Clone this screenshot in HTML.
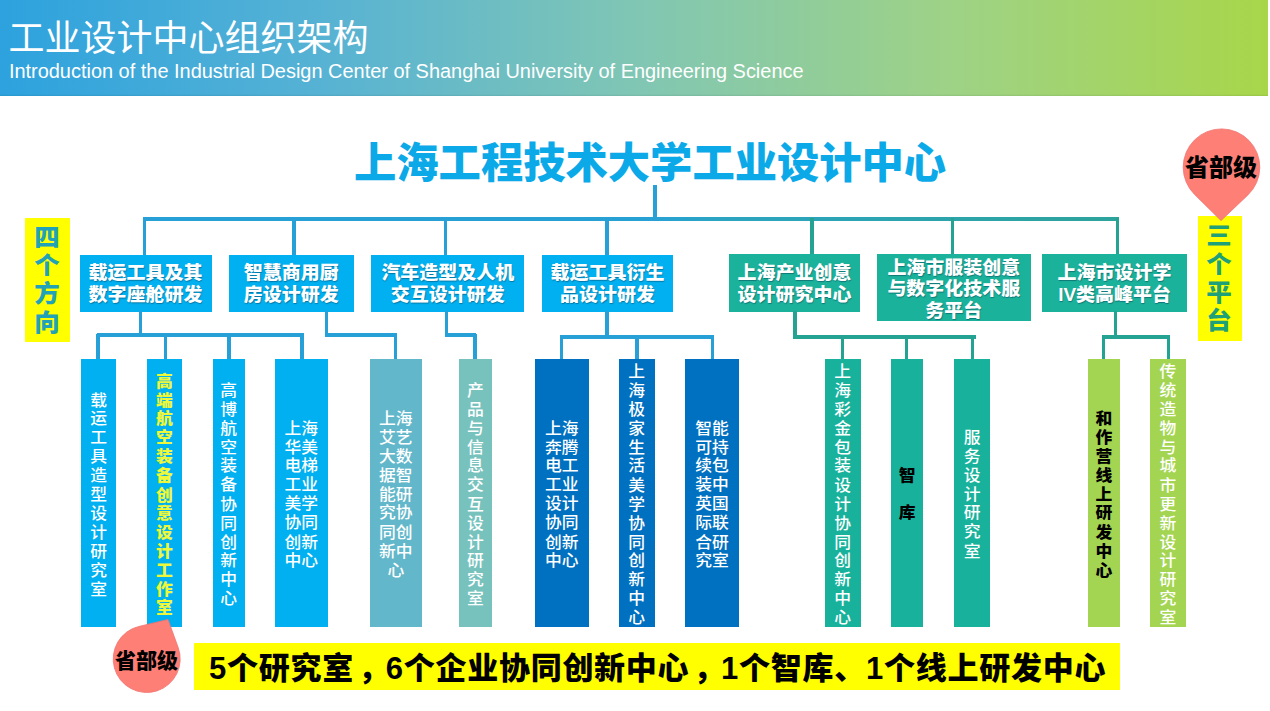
<!DOCTYPE html>
<html lang="zh-CN">
<head>
<meta charset="utf-8">
<title>工业设计中心组织架构</title>
<style>
*{margin:0;padding:0;box-sizing:border-box;}
html,body{width:1270px;height:711px;overflow:hidden;background:#fff;}
body{position:relative;font-family:"Liberation Sans","Noto Sans CJK SC",sans-serif;}
.abs{position:absolute;}
#hdr{left:0;top:0;width:1268px;height:96px;box-shadow:inset 0 -1.2px 0 rgba(0,40,40,0.07);
 background:linear-gradient(90deg,#2da2de 0%,#56b2d4 25%,#80c6b4 50%,#9ed286 75%,#a8d64a 100%);}
#t1{left:8.5px;top:12.5px;font-family:"Noto Sans CJK SC",sans-serif;font-weight:400;font-size:36px;line-height:44px;color:#fff;white-space:nowrap;}
#t2{left:8.9px;top:59.9px;font-family:"Liberation Sans",sans-serif;font-size:19.96px;line-height:22px;color:#fff;white-space:nowrap;}
#main{left:354px;top:129.5px;font-family:"Noto Sans CJK SC",sans-serif;font-weight:800;font-size:42.3px;line-height:60px;color:#0ca9e9;white-space:nowrap;}
.ln{position:absolute;}
.b2{position:absolute;display:flex;align-items:center;justify-content:center;text-align:center;color:#fff;
 font-family:"Liberation Sans","Noto Sans CJK SC",sans-serif;font-weight:900;font-size:18.5px;line-height:21.8px;white-space:nowrap;padding-top:1.5px;}
.b2 span{display:block;transform:scaleX(1.025);text-shadow:0.6px 0.7px 0.9px rgba(0,50,80,0.45);}
.blue{background:#00b0f0;}
.teal{background:#1ab29a;}
.b6{padding-top:4.2px;}
.b3{position:absolute;top:359px;height:268px;display:flex;align-items:center;justify-content:center;text-align:center;color:#fff;
 font-family:"Noto Sans CJK SC",sans-serif;font-weight:500;font-size:16.8px;line-height:20.1px;white-space:nowrap;}
.b3 span{display:block;transform:scaleY(0.94);position:relative;top:0.6px;}
.cb{background:#00b0f0;}
.ce{background:#62b7ca;}
.cf{background:#78c2be;}
.cg{background:#0070c0;}
.cj{background:#18b29c;}
.cm{background:#a4d552;}
.yb{position:absolute;background:#ffff00;display:flex;align-items:center;justify-content:center;text-align:center;
 font-family:"Noto Sans CJK SC",sans-serif;font-weight:900;font-size:24px;line-height:28.3px;}
.yb span{display:block;transform:scaleX(1.06);position:relative;top:-1.5px;left:-0.5px;}
#banner{left:194px;top:643px;width:926px;height:47px;background:#ffff00;
 font-family:"Liberation Sans","Noto Sans CJK SC",sans-serif;font-weight:900;font-size:31px;line-height:51px;color:#000;white-space:nowrap;padding-left:15px;letter-spacing:0.74px;}
.cm2{position:relative;left:4px;}
.cm3{position:relative;left:0px;}
.pintxt{position:absolute;font-family:"Noto Sans CJK SC",sans-serif;font-weight:900;color:#000;white-space:nowrap;}
</style>
</head>
<body>
<div id="hdr" class="abs"></div>
<div id="t1" class="abs">工业设计中心组织架构</div>
<div id="t2" class="abs">Introduction of the Industrial Design Center of Shanghai University of Engineering Science</div>
<div id="main" class="abs">上海工程技术大学工业设计中心</div>
<div class="ln" style="left:653.3px;top:185.0px;width:3.4px;height:34.0px;background:#26a0d6"></div>
<div class="ln" style="left:142.5px;top:217.3px;width:976.5px;height:3.4px;background:linear-gradient(90deg,#26a0d6 0%,#27a1d4 52%,#2ca4c0 60%,#2da4a6 88%,#2da39c 100%)"></div>
<div class="ln" style="left:142.9px;top:218.0px;width:3.4px;height:37.5px;background:#26a0d6"></div>
<div class="ln" style="left:292.3px;top:218.0px;width:3.4px;height:37.5px;background:#26a0d6"></div>
<div class="ln" style="left:444.0px;top:218.0px;width:3.4px;height:37.5px;background:#26a0d6"></div>
<div class="ln" style="left:605.2px;top:218.0px;width:3.4px;height:37.5px;background:#26a0d6"></div>
<div class="ln" style="left:810.3px;top:218.0px;width:3.4px;height:37.5px;background:#25a392"></div>
<div class="ln" style="left:951.0px;top:218.0px;width:3.4px;height:37.5px;background:#25a392"></div>
<div class="ln" style="left:1115.8px;top:218.0px;width:3.4px;height:37.5px;background:#25a392"></div>
<div class="b2 blue" style="left:80px;top:254.5px;width:131.5px;height:57px"><span>载运工具及其<br>数字座舱研发</span></div>
<div class="b2 blue" style="left:229px;top:254.5px;width:124.6px;height:57px"><span>智慧商用厨<br>房设计研发</span></div>
<div class="b2 blue" style="left:370.6px;top:254.5px;width:153.8px;height:57px"><span>汽车造型及人机<br>交互设计研发</span></div>
<div class="b2 blue" style="left:542px;top:254.5px;width:130.5px;height:57px"><span>载运工具衍生<br>品设计研发</span></div>
<div class="b2 teal" style="left:729px;top:254px;width:131px;height:57.5px"><span>上海产业创意<br>设计研究中心</span></div>
<div class="b2 teal b6" style="left:877px;top:254px;width:154.3px;height:66.5px"><span>上海市服装创意<br>与数字化技术服<br>务平台</span></div>
<div class="b2 teal" style="left:1042px;top:254.3px;width:145px;height:57.4px"><span>上海市设计学<br>IV类高峰平台</span></div>
<div class="ln" style="left:138.8px;top:311.0px;width:3.4px;height:25.5px;background:#26a0d6"></div>
<div class="ln" style="left:96.5px;top:333.3px;width:207.0px;height:3.4px;background:#26a0d6"></div>
<div class="ln" style="left:96.3px;top:333.5px;width:3.4px;height:26.5px;background:#26a0d6"></div>
<div class="ln" style="left:163.5px;top:333.5px;width:3.4px;height:26.5px;background:#26a0d6"></div>
<div class="ln" style="left:227.4px;top:333.5px;width:3.4px;height:26.5px;background:#26a0d6"></div>
<div class="ln" style="left:300.3px;top:333.5px;width:3.4px;height:26.5px;background:#26a0d6"></div>
<div class="ln" style="left:325.1px;top:311.0px;width:3.4px;height:25.5px;background:#26a0d6"></div>
<div class="ln" style="left:325.3px;top:333.3px;width:71.8px;height:3.4px;background:#26a0d6"></div>
<div class="ln" style="left:393.9px;top:333.5px;width:3.4px;height:26.5px;background:#26a0d6"></div>
<div class="ln" style="left:444.9px;top:311.0px;width:3.4px;height:25.5px;background:#26a0d6"></div>
<div class="ln" style="left:445.1px;top:333.3px;width:31.4px;height:3.4px;background:#26a0d6"></div>
<div class="ln" style="left:473.3px;top:333.5px;width:3.4px;height:26.5px;background:#26a0d6"></div>
<div class="ln" style="left:605.3px;top:311.0px;width:3.4px;height:27.5px;background:#26a0d6"></div>
<div class="ln" style="left:560.0px;top:335.3px;width:154.0px;height:3.4px;background:#26a0d6"></div>
<div class="ln" style="left:559.7px;top:335.5px;width:3.4px;height:24.5px;background:#26a0d6"></div>
<div class="ln" style="left:635.3px;top:335.5px;width:3.4px;height:24.5px;background:#26a0d6"></div>
<div class="ln" style="left:710.6px;top:335.5px;width:3.4px;height:24.5px;background:#26a0d6"></div>
<div class="ln" style="left:793.3px;top:311.0px;width:3.4px;height:27.5px;background:#25a392"></div>
<div class="ln" style="left:793.5px;top:335.3px;width:182.5px;height:3.4px;background:#25a392"></div>
<div class="ln" style="left:840.7px;top:335.5px;width:3.4px;height:24.5px;background:#25a392"></div>
<div class="ln" style="left:904.9px;top:335.5px;width:3.4px;height:24.5px;background:#25a392"></div>
<div class="ln" style="left:971.0px;top:335.5px;width:3.4px;height:24.5px;background:#25a392"></div>
<div class="ln" style="left:1113.8px;top:311.0px;width:3.4px;height:27.5px;background:#25a392"></div>
<div class="ln" style="left:1102.2px;top:335.3px;width:68.0px;height:3.4px;background:#25a392"></div>
<div class="ln" style="left:1102.0px;top:335.5px;width:3.4px;height:24.5px;background:#25a392"></div>
<div class="ln" style="left:1167.0px;top:335.5px;width:3.4px;height:24.5px;background:#25a392"></div>
<div class="b3 cb" style="left:81.3px;width:34.5px;"><span>载<br>运<br>工<br>具<br>造<br>型<br>设<br>计<br>研<br>究<br>室</span></div>
<div class="b3 cb" style="left:146.7px;width:35.5px;color:#eef83a;font-weight:900"><span>高<br>端<br>航<br>空<br>装<br>备<br>创<br>意<br>设<br>计<br>工<br>作<br>室</span></div>
<div class="b3 cb" style="left:212.7px;width:32.1px;"><span>高<br>博<br>航<br>空<br>装<br>备<br>协<br>同<br>创<br>新<br>中<br>心</span></div>
<div class="b3 cb" style="left:274.8px;width:53.0px;"><span>上海<br>华美<br>电梯<br>工业<br>美学<br>协同<br>创新<br>中心</span></div>
<div class="b3 ce" style="left:369.9px;width:51.9px;"><span>上海<br>艾艺<br>大数<br>据智<br>能研<br>究协<br>同创<br>新中<br>心</span></div>
<div class="b3 cf" style="left:458.8px;width:33.4px;"><span>产<br>品<br>与<br>信<br>息<br>交<br>互<br>设<br>计<br>研<br>究<br>室</span></div>
<div class="b3 cg" style="left:534.7px;width:54.0px;"><span>上海<br>奔腾<br>电工<br>工业<br>设计<br>协同<br>创新<br>中心</span></div>
<div class="b3 cg" style="left:618.5px;width:36.2px;"><span>上<br>海<br>极<br>家<br>生<br>活<br>美<br>学<br>协<br>同<br>创<br>新<br>中<br>心</span></div>
<div class="b3 cg" style="left:685px;width:54.0px;"><span>智能<br>可持<br>续包<br>装中<br>英国<br>际联<br>合研<br>究室</span></div>
<div class="b3 cj" style="left:824.6px;width:36.0px;"><span>上<br>海<br>彩<br>金<br>包<br>装<br>设<br>计<br>协<br>同<br>创<br>新<br>中<br>心</span></div>
<div class="b3 cj" style="left:891.1px;width:32.1px;color:#000;font-weight:900"><span>智<br>&nbsp;<br>库</span></div>
<div class="b3 cj" style="left:954.2px;width:35.9px;"><span>服<br>务<br>设<br>计<br>研<br>究<br>室</span></div>
<div class="b3 cm" style="left:1088px;width:31.6px;color:#000;font-weight:900"><span>和<br>作<br>营<br>线<br>上<br>研<br>发<br>中<br>心</span></div>
<div class="b3 cm" style="left:1150.1px;width:35.6px;"><span>传<br>统<br>造<br>物<br>与<br>城<br>市<br>更<br>新<br>设<br>计<br>研<br>究<br>室</span></div>
<div class="yb" style="left:25px;top:218px;width:45px;height:123.5px;color:#22a2b8"><span>四<br>个<br>方<br>向</span></div>
<div class="yb" style="left:1198px;top:215.7px;width:43.5px;height:125.3px;color:#1ea078"><span>三<br>个<br>平<br>台</span></div>
<div id="banner" class="abs">5个研究室<span class="cm2">，</span>6个企业协同创新中心<span class="cm2">，</span>1个智库<span class="cm3">、</span>1个线上研发中心</div>
<svg class="abs" style="left:0;top:0" width="1270" height="711" viewBox="0 0 1270 711">
<path d="M1221.00,220.60 L1194.55,194.42 A38.30,38.30 0 1 1 1247.93,194.92 Z" fill="#fd7f76" stroke="#f07470" stroke-width="0.8"/>
<path d="M168.00,619.50 L178.19,647.57 A33.50,33.50 0 1 1 138.95,626.41 Z" fill="#fd7f76" stroke="#f07470" stroke-width="0.8"/>
</svg>
<div class="pintxt" style="left:1185px;top:151px;font-size:24px;line-height:30px">省部级</div>
<div class="pintxt" style="left:115px;top:646px;font-size:21px;line-height:26px">省部级</div>
</body>
</html>
